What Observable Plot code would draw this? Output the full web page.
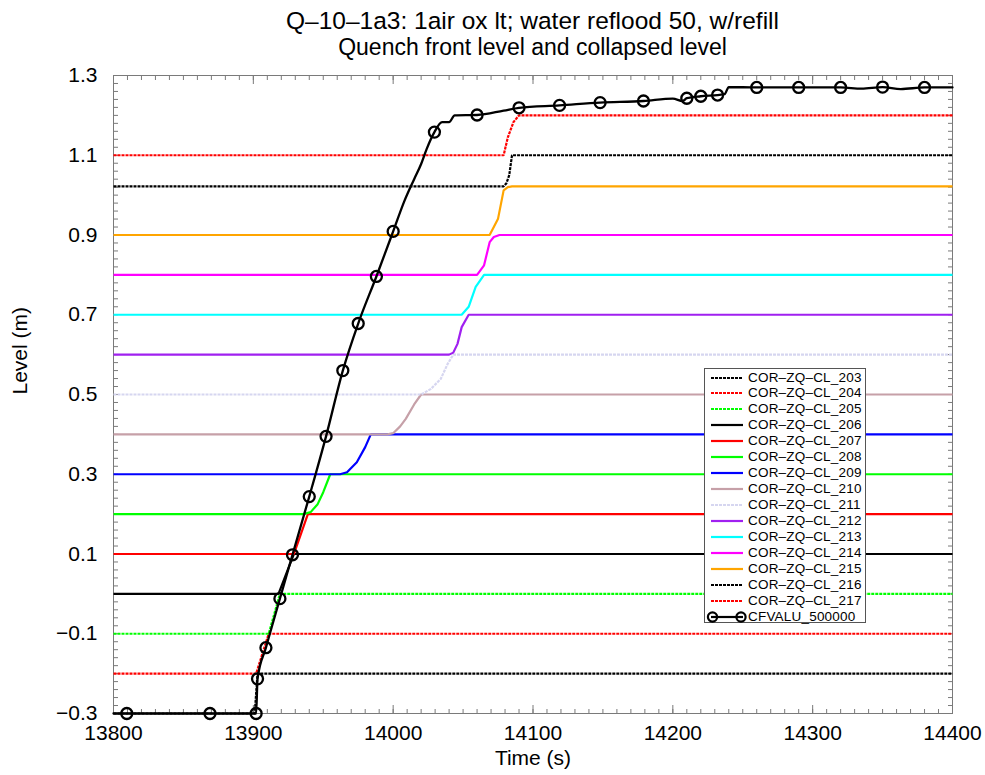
<!DOCTYPE html>
<html>
<head>
<meta charset="utf-8">
<script src="https://cdn.jsdelivr.net/npm/d3@7"></script>
<script src="https://cdn.jsdelivr.net/npm/@observablehq/plot@0.6"></script>
<style>
  body { margin: 0; background: #fff; font-family: "Liberation Sans", Arial, Helvetica, sans-serif; }
  #wrap { position: relative; width: 985px; height: 775px; }
  #head { position: relative; width: 985px; height: 60px; }
  .t1 { position: absolute; left: 113px; width: 839px; top: 7px; text-align: center; font-size: 24.5px; line-height: 28px; color: #000; white-space: nowrap; }
  .t2 { position: absolute; left: 113px; width: 839px; top: 34px; text-align: center; font-size: 23px; line-height: 26px; color: #000; white-space: nowrap; }
  #legend { position: absolute; left: 704px; top: 368px; width: 160px; height: 253px; background: #fff; border: 1px solid #555; }
  #legend .row { position: absolute; left: 0; height: 16px; width: 160px; }
  #legend svg { position: absolute; left: 0; top: 0; }
  #legend span { position: absolute; left: 43px; top: 0; font-size: 13.5px; letter-spacing: 0.2px; line-height: 16px; color: #000; white-space: nowrap; }
</style>
</head>
<body>
<div id="wrap">
  <div id="head">
    <div class="t1">Q–10–1a3: 1air ox lt; water reflood 50, w/refill</div>
    <div class="t2">Quench front level and collapsed level</div>
  </div>
  <div id="chart"></div>
  <div id="legend"></div>
</div>
<script>
// ---------- data ----------
const xTickLabels = [13800, 13900, 14000, 14100, 14200, 14300, 14400];
const yTickLabels = [-0.3, -0.1, 0.1, 0.3, 0.5, 0.7, 0.9, 1.1, 1.3];

// collapsed levels COR-ZQ-CL_203 ... 217 : time (s) and level (m)
const t203 = [13800, 13901, 13903, 14400];
const l203 = [-0.3, -0.3, -0.2, -0.2];
const t204 = [13800, 13902, 13911, 14400];
const l204 = [-0.2, -0.2, -0.1, -0.1];
const t205 = [13800, 13911, 13919, 14400];
const l205 = [-0.1, -0.1, 0.0, 0.0];
const t206 = [13800, 13918, 13929, 14400];
const l206 = [0.0, 0.0, 0.1, 0.1];
const t207 = [13800, 13929, 13932, 13939, 14400];
const l207 = [0.1, 0.1, 0.13, 0.2, 0.2];
const t208 = [13800, 13936, 13941, 13946, 13950, 13955, 14400];
const l208 = [0.2, 0.2, 0.205, 0.225, 0.255, 0.3, 0.3];
const t209 = [13800, 13962, 13967, 13974, 13980, 13984, 14400];
const l209 = [0.3, 0.3, 0.305, 0.33, 0.368, 0.4, 0.4];
const t210 = [13800, 13996, 14000, 14005, 14009, 14015, 14020, 14400];
const l210 = [0.4, 0.4, 0.403, 0.42, 0.439, 0.475, 0.5, 0.5];
const t211 = [13800, 14020, 14027, 14034, 14039, 14043, 14400];
const l211 = [0.5, 0.5, 0.514, 0.539, 0.577, 0.6, 0.6];
const t212 = [13800, 14040, 14043, 14046, 14049, 14054, 14400];
const l212 = [0.6, 0.6, 0.605, 0.627, 0.669, 0.7, 0.7];
const t213 = [13800, 14049, 14054, 14059, 14065, 14400];
const l213 = [0.7, 0.7, 0.72, 0.77, 0.8, 0.8];
const t214 = [13800, 14060, 14065, 14069, 14072, 14076, 14400];
const l214 = [0.8, 0.8, 0.824, 0.882, 0.895, 0.9, 0.9];
const t215 = [13800, 14069, 14075, 14079, 14082, 14085, 14400];
const l215 = [0.9, 0.9, 0.941, 1.012, 1.02, 1.022, 1.022];
const t216 = [13800, 14079, 14081, 14083, 14085, 14400];
const l216 = [1.022, 1.022, 1.03, 1.05, 1.1, 1.1];
const t217 = [13800, 14079, 14082, 14086, 14090, 14400];
const l217 = [1.1, 1.1, 1.145, 1.183, 1.2, 1.2];

const seriesNames = ["COR–ZQ–CL_203", "COR–ZQ–CL_204", "COR–ZQ–CL_205", "COR–ZQ–CL_206", "COR–ZQ–CL_207",
  "COR–ZQ–CL_208", "COR–ZQ–CL_209", "COR–ZQ–CL_210", "COR–ZQ–CL_211", "COR–ZQ–CL_212", "COR–ZQ–CL_213",
  "COR–ZQ–CL_214", "COR–ZQ–CL_215", "COR–ZQ–CL_216", "COR–ZQ–CL_217"];
const seriesTimes = [t203, t204, t205, t206, t207, t208, t209, t210, t211, t212, t213, t214, t215, t216, t217];
const seriesLevels = [l203, l204, l205, l206, l207, l208, l209, l210, l211, l212, l213, l214, l215, l216, l217];
const seriesColors = ["#000000", "#ff0000", "#00ff00", "#000000", "#ff0000", "#00ff00", "#0000ff",
  "#c6a0a8", "#d6d6f0", "#a020f0", "#00ffff", "#ff00ff", "#ffa500", "#000000", "#ff0000"];
const seriesDashed = [true, true, true, false, false, false, false, false, true, false, false, false, false, true, true];

// quench front CFVALU_500000
const cfName = "CFVALU_500000";
const cfTime = [13800, 13809.5, 13869, 13902, 13903, 13909, 13919, 13928, 13940, 13952, 13964, 13975, 13988, 14000,
  14008, 14015, 14020, 14024, 14029.5, 14035, 14040, 14044, 14060, 14079, 14090, 14119, 14148, 14179, 14200, 14207,
  14210, 14220, 14232, 14237, 14240, 14260, 14290, 14320, 14335, 14350, 14363, 14380, 14400];
const cfLevel = [-0.3, -0.3, -0.3, -0.3, -0.213, -0.135, -0.012, 0.098, 0.244, 0.395, 0.56, 0.678, 0.796, 0.909,
  0.985, 1.04, 1.078, 1.116, 1.158, 1.183, 1.183, 1.2, 1.201, 1.212, 1.219, 1.225, 1.232, 1.236, 1.242, 1.236,
  1.243, 1.248, 1.251, 1.253, 1.271, 1.27, 1.27, 1.27, 1.267, 1.271, 1.266, 1.27, 1.27];
const cfMarkerTimes = [13809.5, 13869, 13902, 13903, 13909, 13919, 13928, 13940, 13952, 13964, 13975, 13988, 14000,
  14029.5, 14060, 14090, 14119, 14148, 14179, 14210, 14220, 14232, 14260, 14290, 14320, 14350, 14380];

// ---------- build ----------
const DASH = "3,1";
const series = seriesNames.map((name, i) => ({
  name, color: seriesColors[i], dash: seriesDashed[i] ? DASH : null,
  points: seriesTimes[i].map((t, j) => ({time: t, level: seriesLevels[i][j]}))
}));
const cfPoints = cfTime.map((t, j) => ({time: t, level: cfLevel[j]}));
const markerSet = new Set(cfMarkerTimes);
const cfMarkers = cfPoints.filter(d => markerSet.has(d.time));

const xMinor = d3.range(13800, 14400.001, 10);
const yMinor = d3.range(-0.3, 1.3001, 0.02).map(v => Math.round(v * 100) / 100);
const fmtY = d => (d < 0 ? "\u2212" : "") + Math.abs(d).toFixed(1);
const axisGrey = "#7a7a7a";

const chart = Plot.plot({
  width: 985,
  height: 715,
  marginTop: 15,
  marginBottom: 62,
  marginLeft: 113,
  marginRight: 33,
  style: {fontFamily: "'Liberation Sans', Arial, Helvetica, sans-serif", fontSize: "21px", color: "#000", background: "#fff", overflow: "visible"},
  x: {domain: [13800, 14400], axis: null},
  y: {domain: [-0.3, 1.3], axis: null},
  marks: [
    // inward ticks
    Plot.axisX(xMinor, {anchor: "bottom", tickSize: 4, dy: -4, fill: "none", label: null, stroke: axisGrey}),
    Plot.axisX(xMinor, {anchor: "top", tickSize: 4, dy: 4, fill: "none", label: null, stroke: axisGrey}),
    Plot.axisX(xTickLabels, {anchor: "bottom", tickSize: 8, dy: -8, fill: "none", label: null, stroke: axisGrey}),
    Plot.axisX(xTickLabels, {anchor: "top", tickSize: 8, dy: 8, fill: "none", label: null, stroke: axisGrey}),
    Plot.axisY(yMinor, {anchor: "left", tickSize: 5, dx: 5, fill: "none", label: null, stroke: axisGrey}),
    Plot.axisY(yMinor, {anchor: "right", tickSize: 5, dx: -5, fill: "none", label: null, stroke: axisGrey}),
    // tick labels
    Plot.axisX(xTickLabels, {anchor: "bottom", tickSize: 0, tickPadding: 12, label: null, tickFormat: d => String(d)}),
    Plot.axisY(yTickLabels, {anchor: "left", tickSize: 0, tickPadding: 16, label: null, tickFormat: fmtY}),
    // axis titles
    Plot.text(["Time (s)"], {frameAnchor: "bottom", dy: 51, text: d => d, fontSize: 21}),
    Plot.text(["Level (m)"], {frameAnchor: "left", dx: -93, rotate: -90, text: d => d, fontSize: 21}),
    Plot.frame({stroke: axisGrey}),
    // collapsed levels
    ...series.map(s => Plot.line(s.points, {
      x: "time", y: "level", stroke: s.color, strokeWidth: 2.2,
      strokeDasharray: s.dash, strokeLinecap: "butt", strokeLinejoin: "miter"
    })),
    // quench front
    Plot.line(cfPoints, {x: "time", y: "level", stroke: "#000", strokeWidth: 2.3, curve: "monotone-x"}),
    Plot.dot(cfMarkers, {x: "time", y: "level", r: 5.5, stroke: "#000", strokeWidth: 2.3, fill: "none"})
  ]
});
document.getElementById("chart").appendChild(chart);

// ---------- legend ----------
const legend = d3.select("#legend");
const entries = series.map(s => ({name: s.name, color: s.color, dash: s.dash, marker: false}))
  .concat([{name: cfName, color: "#000", dash: null, marker: true}]);
entries.forEach((e, i) => {
  const row = legend.append("div").attr("class", "row").style("top", (i * 15.95 + 0.5) + "px");
  const svg = row.append("svg").attr("width", 42).attr("height", 16);
  svg.append("line").attr("x1", 6).attr("x2", 38).attr("y1", 8).attr("y2", 8)
    .attr("stroke", e.color).attr("stroke-width", 2.2)
    .attr("stroke-dasharray", e.dash);
  if (e.marker) {
    [7.5, 36].forEach(cx => svg.append("circle").attr("cx", cx).attr("cy", 8).attr("r", 4.6)
      .attr("fill", "none").attr("stroke", "#000").attr("stroke-width", 2.2));
  }
  row.append("span").text(e.name);
});
</script>
</body>
</html>
